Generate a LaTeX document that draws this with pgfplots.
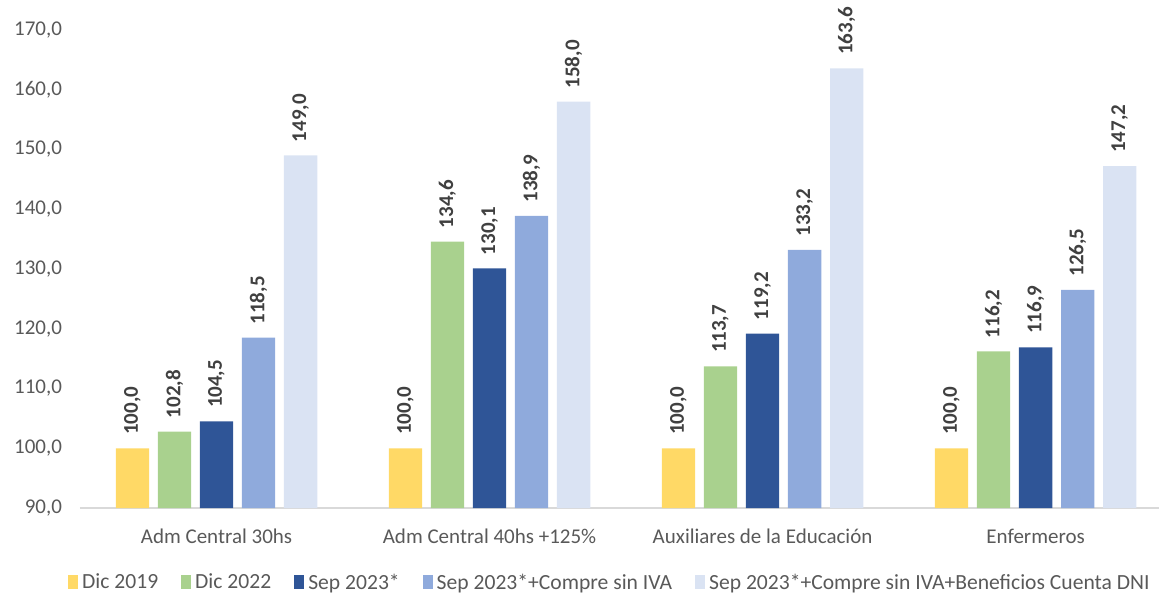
\documentclass[border=0pt]{standalone}
\usepackage{fontspec}
\setmainfont{Carlito}
\usepackage{pgfplots}
\pgfplotsset{compat=1.18}

\definecolor{cA}{HTML}{FFD966}
\definecolor{cB}{HTML}{A9D18E}
\definecolor{cC}{HTML}{2F5597}
\definecolor{cD}{HTML}{8FAADC}
\definecolor{cE}{HTML}{DAE3F3}
\definecolor{txt}{HTML}{595959}
\definecolor{lbl}{HTML}{404040}

\newcommand{\fs}{\fontsize{10.5}{12.6}\selectfont}

\begin{document}
\begin{tikzpicture}
\path[use as bounding box] (-40pt,-42.5pt) rectangle (539.5pt,254pt);
\begin{axis}[
    scale only axis,
    width=539.5pt, height=239pt,
    ybar,
    bar width=0.122,
    xmin=-0.5, xmax=3.452,
    ymin=90, ymax=170,
    ytick={90,100,...,170},
    xtick={0,1,2,3},
    xticklabels={Adm Central 30hs, Adm Central 40hs +125\%, Auxiliares de la Educación, Enfermeros},
    axis x line=bottom,
    axis y line=left,
    axis line style={draw=black!15, line width=0.8pt, -},
    y axis line style={draw=none},
    major tick length=0pt,
    /pgf/number format/.cd, fixed, fixed zerofill, precision=1, use comma, assume math mode=true,
    /pgfplots/.cd,
    yticklabel style={font=\fs, text=txt, xshift=-5.5pt},
    xticklabel style={font=\fs, text=txt, yshift=-7pt},
    clip=false,
    nodes near coords,
    every node near coord/.append style={font=\fs\bfseries, text=lbl, rotate=90, anchor=west, inner xsep=6.5pt},
    legend columns=-1,
    legend style={draw=none, fill=none, at={(0.492,-0.157)}, anchor=center,
      font=\fontsize{10.8}{13}\selectfont, text=txt,
      /tikz/every even column/.append style={column sep=9.5pt}},
    legend image code/.code={\fill[#1] (0pt,-3pt) rectangle (5pt,4pt);},
]
\addplot[fill=cA, draw=none, bar shift=-0.308] coordinates {(0,100.0) (1,100.0) (2,100.0) (3,100.0)};
\addplot[fill=cB, draw=none, bar shift=-0.154] coordinates {(0,102.8) (1,134.6) (2,113.7) (3,116.2)};
\addplot[fill=cC, draw=none, bar shift=0] coordinates {(0,104.5) (1,130.1) (2,119.2) (3,116.9)};
\addplot[fill=cD, draw=none, bar shift=0.154] coordinates {(0,118.5) (1,138.9) (2,133.2) (3,126.5)};
\addplot[fill=cE, draw=none, bar shift=0.308] coordinates {(0,149.0) (1,158.0) (2,163.6) (3,147.2)};
\legend{Dic 2019, Dic 2022, Sep 2023*, Sep 2023*+Compre sin IVA, Sep 2023*+Compre sin IVA+Beneficios Cuenta DNI}
\end{axis}
\end{tikzpicture}
\end{document}
